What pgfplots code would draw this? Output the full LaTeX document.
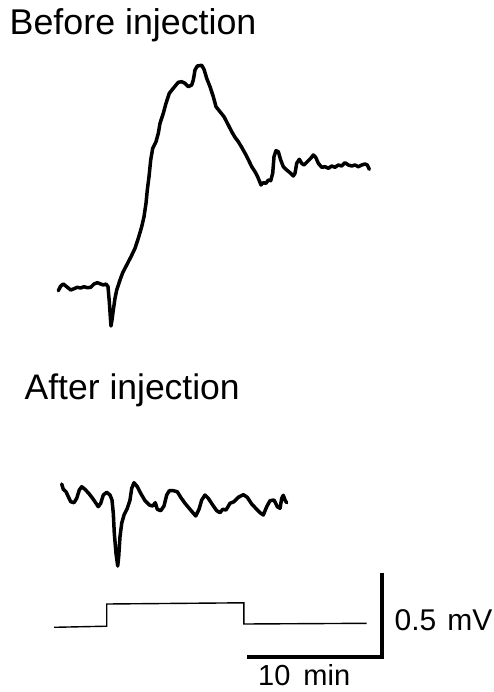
\documentclass[border=0pt]{standalone}
\usepackage{pgfplots}
\pgfplotsset{compat=1.18}
\usepackage{fontspec}
\setmainfont{Liberation Sans}
\begin{document}
\begin{tikzpicture}
\useasboundingbox (0,0) rectangle (494pt,692pt);
\begin{axis}[
  at={(0,0)}, anchor=south west,
  scale only axis, width=494pt, height=692pt,
  xmin=0, xmax=494, ymin=0, ymax=692, y dir=reverse,
  hide axis, clip=false,
]
% Before injection trace
\addplot[black, line width=3.5pt, line join=round, line cap=round] coordinates {
(58.3,290.7) (60.7,286) (63.3,284) (66.7,286.7) (70.7,290) (74,288.7) (77.3,287.3) (80.7,288) (84,286.7) (87.3,287.7) (90.7,287.3) (94,284) (97.3,282.7) (100.7,284) (103.3,285) (106,284) (108,286.7) (109.3,301.7) (110.3,316.7) (111,326) (112,320) (113.3,310) (115,298.3) (116.7,290) (120,280) (122.7,272.7) (126.7,265) (131,256.7) (135,248.3) (138.3,238.3) (141.7,226.7) (144,216.7) (146,203.3) (147.3,190) (149,176.7) (150.7,160) (152.7,148.3) (156,141.7) (158.3,133.3) (160,123.3) (163.3,113.3) (166,103.3) (169.3,93.3) (173.3,88.3) (178.3,82.3) (181.7,81.7) (185,83.3) (188.3,86.7) (191.7,85) (193.3,80) (195,70) (197.3,66) (201.7,65.3) (204,69.3) (206.7,78.3) (210,86.7) (213.3,96.7) (216,106.7) (220,111.7) (224,116.7) (228.3,125) (231.7,131.7) (235,137.3) (238.3,141.7) (241.7,147.3) (246,155) (249.3,161.7) (251.7,166.7) (255,171.7) (257.3,176) (259.3,180.7) (261,185) (263.3,182.7) (266,183.3) (268.3,180) (270.7,180.7) (272.7,173.3) (274,156.7) (276,150.7) (278.3,151.7) (280.7,160) (283.3,166.7) (286.7,170) (290,172.7) (293.3,176) (295,173.3) (296.7,163.3) (299.3,159.3) (301.7,163.3) (304,165) (307.3,161.7) (310.7,158.3) (313.3,155) (315.7,157.3) (318.3,163.3) (321.7,167.3) (325,166.7) (328.3,168.3) (331.7,166) (335,167.3) (338.3,165) (341.7,166) (345,162.7) (348.3,165) (351.7,166) (355,165) (358.3,166.7) (361.7,165) (365,164) (367.3,165) (369.3,169.3)
};
% After injection trace
\addplot[black, line width=3.5pt, line join=round, line cap=round] coordinates {
(61.7,484) (63.3,489.3) (66,491.7) (68.3,496.7) (70.7,501.7) (74,502.7) (76.7,498.3) (79.3,490) (81.7,486.7) (85,489.3) (89.3,494) (93.3,499.3) (98.3,506.7) (100.7,503.3) (103.3,495) (106.7,492.3) (110,495) (112,500) (113.3,513.3) (114.3,533.3) (116,553.3) (117.7,566) (118.7,556.7) (120,536.7) (121.7,523.3) (124,515) (127.3,508.3) (130,500) (131.7,488.3) (134,482.7) (137.3,486.7) (140.7,493.3) (145,500.7) (149.3,505) (152.7,506) (155.3,502.7) (157.3,509.3) (160.7,510.7) (164,506) (166.7,495) (169.3,490.7) (173.3,490.7) (177.3,491.7) (180.7,497.3) (185,503.3) (190,509.3) (195.7,516) (199,509.3) (201.7,500) (205,495) (208.3,498.3) (212.7,505) (216.7,510.7) (220,512.7) (222.7,509.3) (226,510) (230,503.3) (234,501.7) (238.3,497.3) (243.3,494.7) (247.3,497.3) (251.7,504) (256.7,509.3) (260,512.7) (263.3,515) (266.7,506.7) (270,500.7) (274,500) (277.3,506.7) (280,508.3) (281.7,498.3) (283.3,495.3) (285.3,500.7) (286.7,502.7)
};
% Injection step
\addplot[black, line width=1.4pt, line join=miter] coordinates {
(54,627.3) (106.7,626.2) (106.7,604) (243.8,602.8) (243.8,624) (366.7,623.3)
};
% Scale bars
\addplot[black, line width=4pt, line join=miter] coordinates {
(381.7,572.7) (381.7,656.7) (246.7,656.7)
};
\node[anchor=base west, inner sep=0pt, font=\fontsize{35.8}{40}\selectfont] at (axis cs:9.5,35) {Before injection};
\node[anchor=base west, inner sep=0pt, font=\fontsize{35.5}{40}\selectfont] at (axis cs:24.5,399.3) {After injection};
\node[anchor=base west, inner sep=0pt, font=\fontsize{30}{34}\selectfont] at (axis cs:394.5,630) {0.5\hspace{11pt}mV};
\node[anchor=base west, inner sep=0pt, font=\fontsize{29}{33}\selectfont] at (axis cs:258,685) {10\hspace{13pt}min};
\end{axis}
\end{tikzpicture}
\end{document}
